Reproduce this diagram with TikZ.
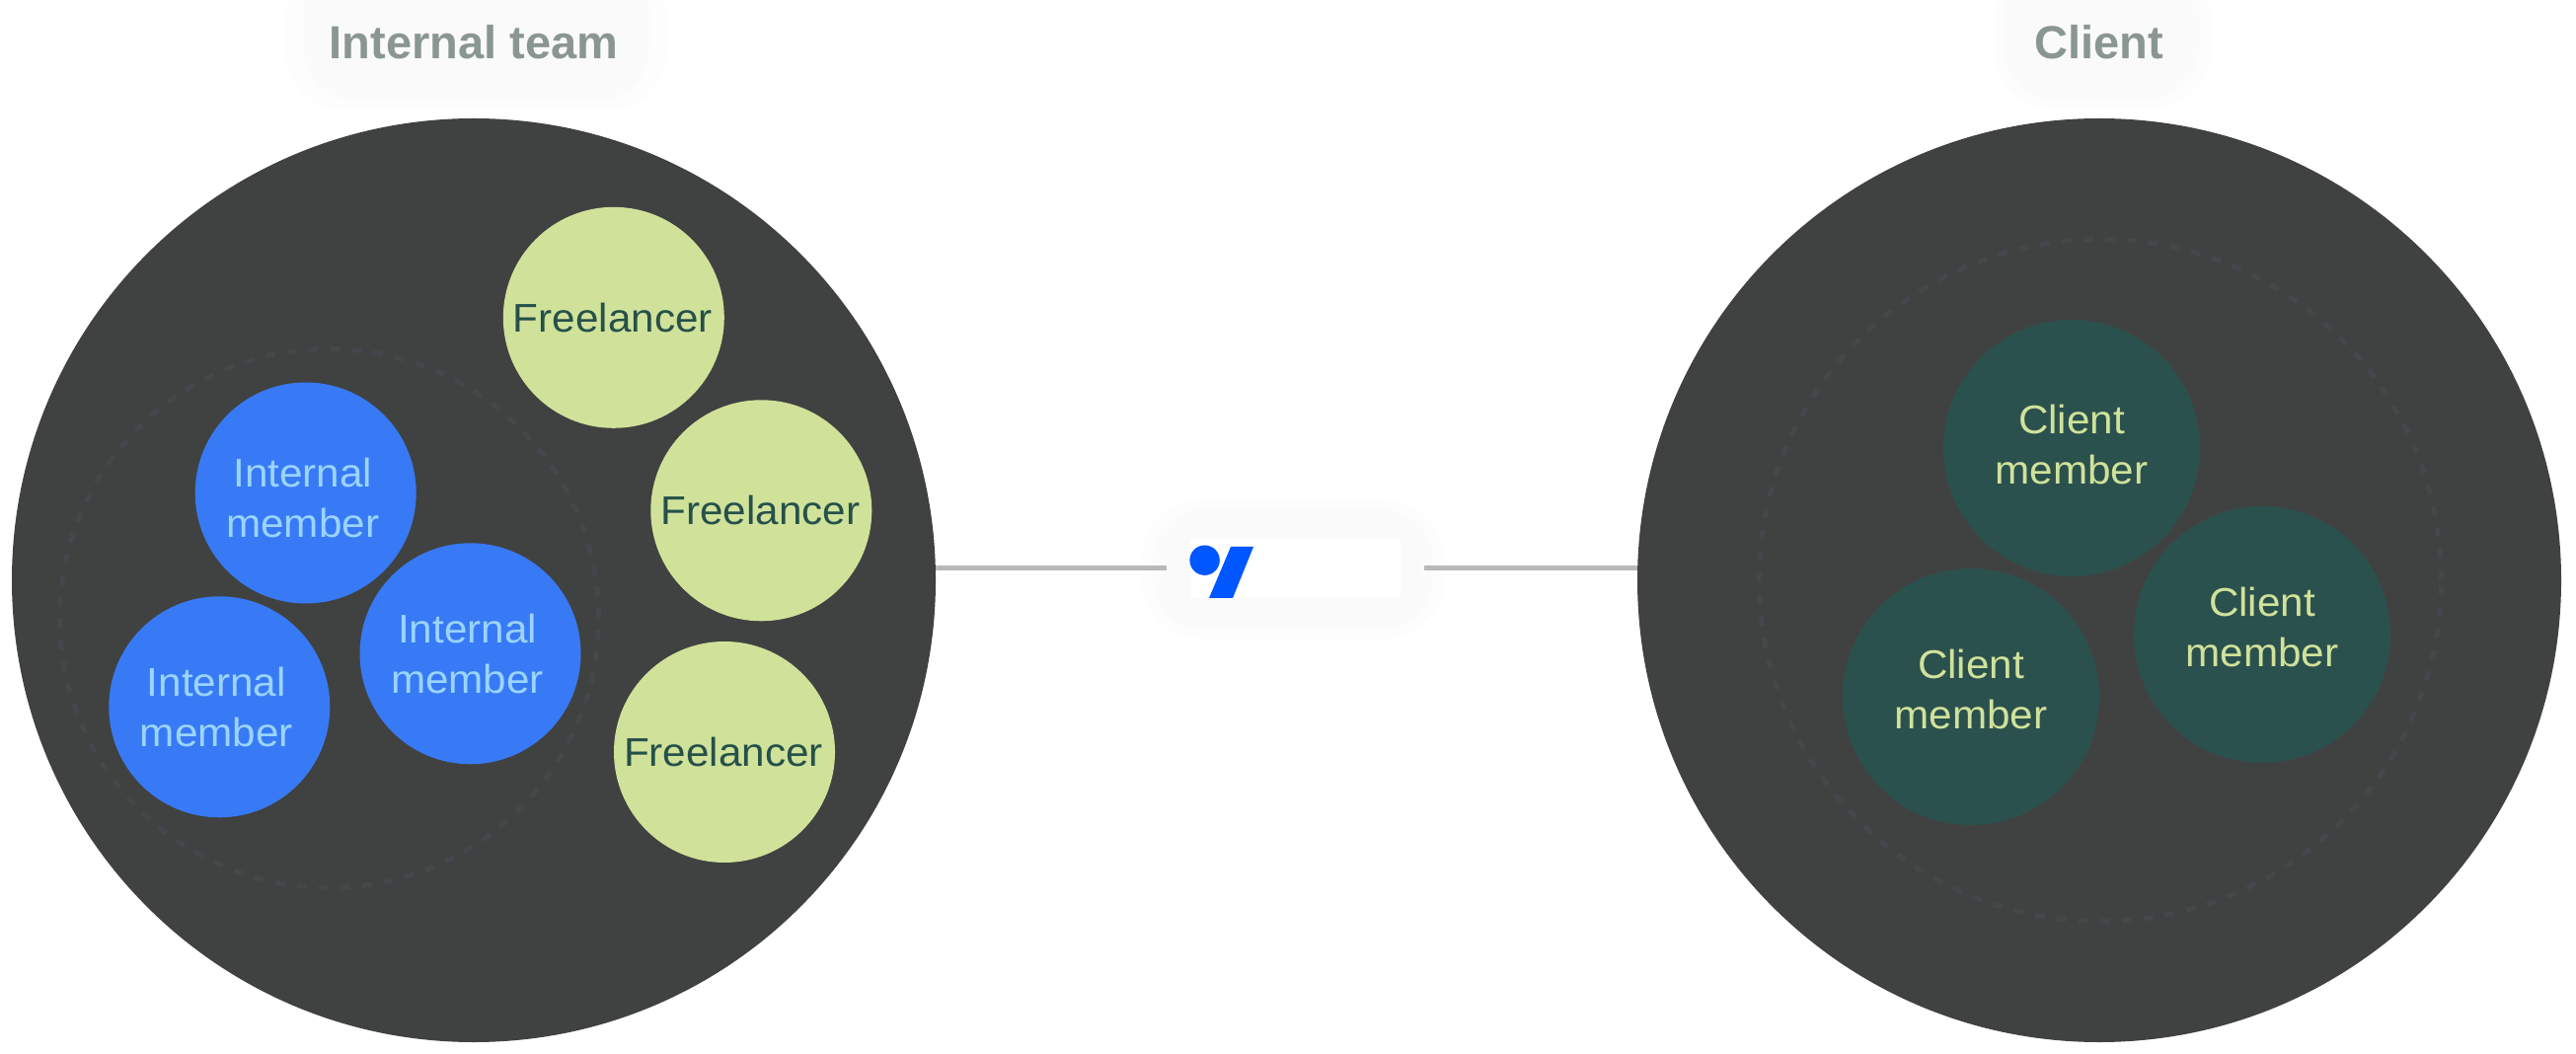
\documentclass[tikz,border=0pt]{standalone}
\usepackage{fontspec}
\setmainfont{Liberation Sans}[FakeStretch=1.04]
\newfontfamily\semi{Liberation Sans Bold}
\definecolor{bigc}{HTML}{404241}
\definecolor{ringc}{HTML}{44474B}
\definecolor{bluec}{HTML}{387AF5}
\definecolor{bluet}{HTML}{9AD4FF}
\definecolor{limec}{HTML}{D0E29A}
\definecolor{greent}{HTML}{26504A}
\definecolor{greenc}{HTML}{2B514E}
\definecolor{titlec}{HTML}{8A9693}
\definecolor{halo1}{HTML}{FDFDFD}
\definecolor{halo2}{HTML}{FBFBFB}
\definecolor{halo3}{HTML}{FAFAFA}
\definecolor{linec}{HTML}{B8B8B8}
\definecolor{logoc}{HTML}{0057FF}
\tikzset{x=0.5pt,y=-0.5pt,
  group/.style={circle,fill=bigc,inner sep=0pt,minimum size=468pt},
  ring/.style={draw=ringc,line width=2.5pt,dash pattern=on 5pt off 6pt},
  member/.style={circle,inner sep=0pt,minimum size=112pt},
  lbl/.style={inner sep=0pt,align=center,font=\fontsize{20.3}{25.5}\selectfont},
  internal/.style={member,fill=bluec},
  free/.style={member,fill=limec},
  clientm/.style={member,minimum size=130pt,fill=greenc},
  intl/.style={lbl,text=bluet},
  frl/.style={lbl,text=greent},
  cll/.style={lbl,text=limec},
  title/.style={text=titlec,font=\semi\fontsize{23.5}{28}\selectfont,inner sep=0pt},
  haloa/.style={fill=halo1,rounded corners=30pt},
  halob/.style={fill=halo2,rounded corners=26pt},
  haloc/.style={fill=halo3,rounded corners=22pt},
  link/.style={draw=linec,line width=2.5pt}}
\begin{document}
\begin{tikzpicture}
\useasboundingbox[fill=white] (0,0) rectangle (2610,1068);
% halos
\fill[haloa] (290,-40) rectangle (675,112);
\fill[halob] (308,-40) rectangle (658,101);
\fill[haloc] (325,-40) rectangle (640,90);
\fill[haloa] (2020,-40) rectangle (2240,110);
\fill[halob] (2030,-40) rectangle (2228,100);
\fill[haloc] (2040,-40) rectangle (2215,90);
\fill[haloa] (1157,507) rectangle (1463,647);
\fill[halob] (1168,516) rectangle (1452,638);
\fill[haloc] (1180,525) rectangle (1440,630);
% big circles
\node[group] (left) at (480,588) {};
\node[group] (right) at (2127,588) {};
\coordinate (ra) at (333.5,626.5);
\coordinate (rb) at (2128,588);
\draw[ring] (ra) circle (136.5pt);
\draw[ring] (rb) circle (172.75pt);
% freelancers
\node[free,label={[frl,shift={(-1,0)}]center:Freelancer}] (f1) at (621.8,321.8) {};
\node[free,label={[frl,shift={(-1,0)}]center:Freelancer}] (f2) at (771.3,517.3) {};
\node[free,label={[frl,shift={(-1,0)}]center:Freelancer}] (f3) at (734,762) {};
% internal
\node[internal,label={[intl,shift={(-3,4.5)}]center:{Internal\\member}}] (i1) at (309.7,499.5) {};
\node[internal,label={[intl,shift={(-3,0)}]center:{Internal\\member}}] (i2) at (222.3,716.3) {};
\node[internal,label={[intl,shift={(-3,0)}]center:{Internal\\member}}] (i3) at (476.5,662.3) {};
% client
\node[clientm,label={[cll,shift={(0,-3.3)}]center:{Client\\member}}] (c1) at (2099,454) {};
\node[clientm,label={[cll,shift={(0,-8)}]center:{Client\\member}}] (c2) at (2292,643) {};
\node[clientm,label={[cll,shift={(0,-8)}]center:{Client\\member}}] (c3) at (1997,706) {};
% titles
\node[title] (t1) at (480,43) {Internal team};
\node[title] (t2) at (2127,43) {Client};
% logo
\node[fill=white,inner sep=0pt,minimum width=106.5pt,minimum height=30pt] (logo) at (1312.5,576) {};
\coordinate (la) at (1182,575.5);
\coordinate (lb) at (1443,575.5);
\draw[link] (left.east |- la) -- (la);
\draw[link] (lb) -- (right.west |- lb);
\fill[logoc] (1220.6,567.7) circle (7.6pt);
\fill[logoc] (1247,554) -- (1270,554) -- (1249,606) -- (1225,606) -- cycle;
\end{tikzpicture}
\end{document}
